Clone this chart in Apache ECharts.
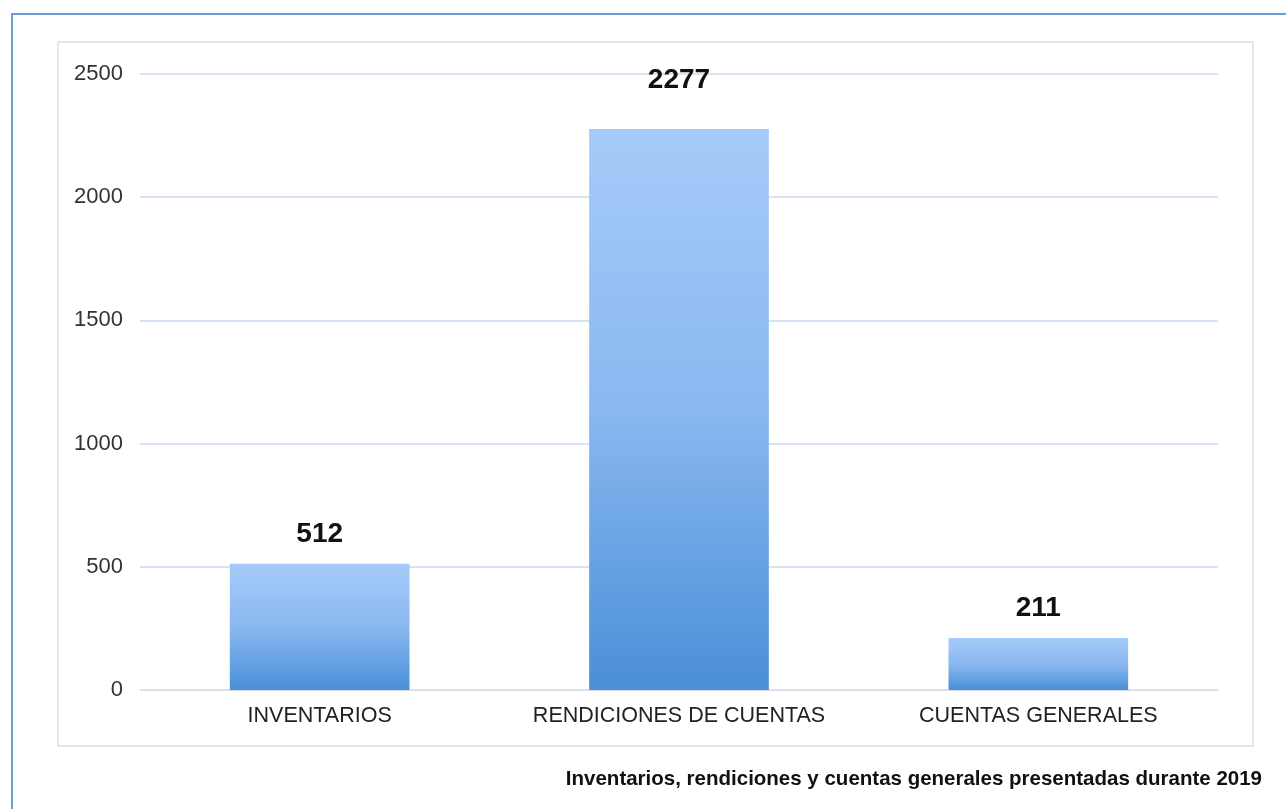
<!DOCTYPE html>
<html>
<head>
<meta charset="utf-8">
<script src="https://cdn.jsdelivr.net/npm/echarts@6/dist/echarts.min.js"></script>
<style>
  html, body { margin: 0; padding: 0; background: #fff; }
  #wrap { position: relative; width: 1286px; height: 809px; overflow: hidden; }
  /* marco exterior azul */
  .outer { position: absolute; left: 11px; top: 13px; width: 1290px; height: 820px;
           border-left: 2px solid #6f9bd6; border-top: 2px solid #6f9bd6; }
  /* panel del gráfico */
  .panel { position: absolute; left: 57px; top: 41px; width: 1193px; height: 702px;
           border: 2px solid #dfe9f5; background: #fff; }
  #main { position: absolute; left: 0; top: 0; width: 1286px; height: 809px; }
</style>
</head>
<body>
<div id="wrap">
  <div class="outer"></div>
  <div class="panel"></div>
  <div id="main"></div>
</div>
<script>
// datos
var categorias = ['INVENTARIOS', 'RENDICIONES DE CUENTAS', 'CUENTAS GENERALES'];
var valores = [512, 2277, 211];
var ticksY = [0, 500, 1000, 1500, 2000, 2500];
var titulo = 'Inventarios, rendiciones y cuentas generales presentadas durante 2019';

var chart = echarts.init(document.getElementById('main'));

var datos = valores.map(function (v, i) {
  var item = { value: v };
  // la etiqueta de la barra alta queda más arriba en el original
  if (i === 1) item.label = { distance: 35 };
  return item;
});

var option = {
  backgroundColor: 'transparent',
  animation: false,
  title: {
    text: titulo,
    right: 19,
    top: 764,
    textStyle: { fontFamily: 'Liberation Sans, Arial', fontSize: 20.5, fontWeight: 'bold', color: '#111' }
  },
  grid: { left: 140, right: 68, top: 74, bottom: 119 },
  xAxis: {
    type: 'category',
    data: categorias,
    axisLine: { show: true, lineStyle: { color: '#d9dee5', width: 1 } },
    axisTick: { show: false },
    axisLabel: {
      interval: 0, margin: 15,
      fontFamily: 'Liberation Sans, Arial', fontSize: 21.5, color: '#222'
    }
  },
  yAxis: {
    type: 'value',
    min: ticksY[0],
    max: ticksY[ticksY.length - 1],
    interval: 500,
    axisLine: { show: false },
    axisTick: { show: false },
    splitLine: { lineStyle: { color: '#d6e4f3', width: 2 } },
    axisLabel: {
      margin: 17,
      formatter: function (v) { return String(v); },
      fontFamily: 'Liberation Sans, Arial', fontSize: 22, color: '#333'
    }
  },
  series: [{
    type: 'bar',
    data: datos,
    barWidth: '50%',
    itemStyle: {
      color: new echarts.graphic.LinearGradient(0, 0, 0, 1, [
        { offset: 0, color: '#a6caf9' },
        { offset: 0.5, color: '#8ab8f0' },
        { offset: 1, color: '#4a8fd8' }
      ])
    },
    label: {
      show: true,
      position: 'top',
      distance: 16,
      fontFamily: 'Liberation Sans, Arial',
      fontSize: 28,
      fontWeight: 'bold',
      color: '#111'
    }
  }]
};

chart.setOption(option);
window.onresize = chart.resize;
</script>
</body>
</html>
